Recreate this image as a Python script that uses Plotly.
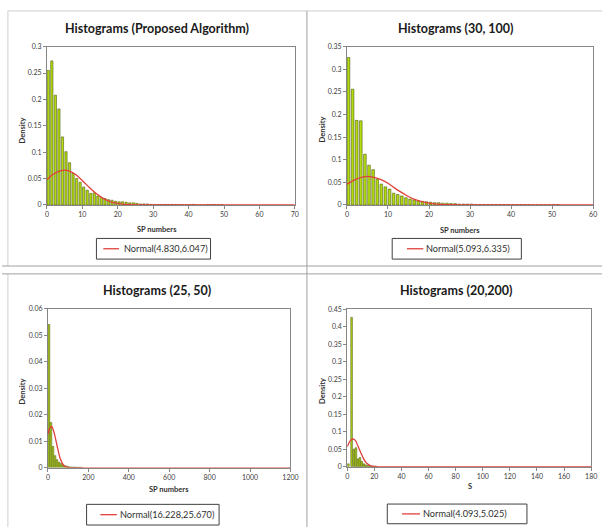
import plotly.graph_objects as go

W, H = 610, 530

# ---------------- data ----------------
titles = ["Histograms (Proposed Algorithm)", "Histograms (30, 100)",
          "Histograms (25, 50)", "Histograms (20,200)"]
x_titles = ["SP numbers", "SP numbers", "SP numbers", "S"]
legend_names = ["Normal(4.830,6.047)", "Normal(5.093,6.335)",
                "Normal(16.228,25.670)", "Normal(4.093,5.025)"]

# Panel 1: histogram (bin start, density)
p1_bins = list(range(0, 50))
p1_dens = [0.255, 0.273, 0.208, 0.182, 0.129, 0.101, 0.080, 0.060, 0.050, 0.043,
           0.034, 0.028, 0.022, 0.023, 0.017, 0.014, 0.012, 0.010, 0.009, 0.007,
           0.006, 0.006, 0.005, 0.004, 0.004, 0.003, 0.002, 0.002, 0.002, 0.001,
           0.001, 0.001, 0.001, 0.001, 0.001, 0.001, 0.001, 0.0008, 0.0008, 0.0005,
           0.0005, 0.001, 0.0, 0.0, 0.0, 0.0008, 0.0008, 0.0008, 0.0005, 0.0005]
p1_curve_x = [0, 2, 4, 5, 6, 8, 10, 12, 14, 16, 18, 20, 22, 25, 30, 70]
p1_curve_y = [0.048, 0.059, 0.065, 0.066, 0.065, 0.058, 0.046, 0.033, 0.021,
              0.012, 0.006, 0.003, 0.001, 0.0002, 0.0, 0.0]

# Panel 2
p2_bins = list(range(0, 52))
p2_dens = [0.326, 0.256, 0.187, 0.186, 0.112, 0.088, 0.078, 0.057, 0.046, 0.040,
           0.035, 0.026, 0.023, 0.020, 0.016, 0.013, 0.011, 0.009, 0.008, 0.007,
           0.006, 0.005, 0.005, 0.004, 0.004, 0.003, 0.003, 0.002, 0.002, 0.002,
           0.002, 0.001, 0.001, 0.001, 0.001, 0.001, 0.001, 0.001, 0.001, 0.0008,
           0.0008, 0.0005, 0.0008, 0.0008, 0.0005, 0.0, 0.0, 0.0, 0.0, 0.0,
           0.0008, 0.0008]
p2_curve_x = [0, 2, 4, 5, 6, 8, 10, 12, 14, 16, 18, 20, 22, 25, 30, 60]
p2_curve_y = [0.046, 0.056, 0.062, 0.063, 0.062, 0.057, 0.048, 0.035, 0.024,
              0.014, 0.008, 0.004, 0.002, 0.0005, 0.0, 0.0]

# Panel 3
p3_bins = list(range(0, 170, 10))
p3_dens = [0.054, 0.017, 0.008, 0.0045, 0.003, 0.002, 0.0015, 0.001, 0.0007,
           0.0005, 0.0003, 0.0002, 0.0002, 0.0002, 0.0001, 0.0001, 0.0001]
p3_curve_x = [0, 10, 16, 20, 30, 40, 50, 60, 70, 80, 90, 100, 120, 1200]
p3_curve_y = [0.0127, 0.0150, 0.0155, 0.0154, 0.0134, 0.0101, 0.0066, 0.0036,
              0.0018, 0.0007, 0.0003, 0.0001, 0.0, 0.0]

# Panel 4
p4_bins = [0.8, 3.2, 4.9, 6.4, 7.9, 9.3, 10.7, 12.2, 13.6, 15.1, 16.5, 18.0, 19.4, 20.9]
p4_dens = [0.008, 0.427, 0.050, 0.054, 0.022, 0.026, 0.015, 0.008, 0.005, 0.004,
           0.003, 0.002, 0.001, 0.001]
p4_curve_x = [0, 2, 4, 6, 8, 10, 12, 14, 16, 18, 20, 24, 180]
p4_curve_y = [0.057, 0.073, 0.079, 0.075, 0.058, 0.040, 0.023, 0.011, 0.005,
              0.0016, 0.0004, 0.0, 0.0]

x_ranges = [[0, 70], [0, 60], [0, 1200], [0, 180]]
x_dticks = [10, 10, 200, 20]
y_ranges = [[0, 0.3], [0, 0.35], [0, 0.06], [0, 0.45]]
y_dticks = [0.05, 0.05, 0.01, 0.05]

# ---------------- layout geometry (pixels) ----------------
plots_px = [  # left, right, top, bottom
    (45.7, 297.7, 42.3, 203.0),
    (350.7, 601.0, 42.3, 203.0),
    (46.7, 293.3, 308.3, 469.7),
    (351.0, 599.0, 309.0, 468.7),
]
title_px = [(158, 24), (462, 24), (158, 290), (462, 290)]
xtitle_px = [(158, 228), (466, 229), (170, 491.5), (475.5, 489)]
ytitle_px = [(21, 127.7), (326, 126.7), (21, 392.7), (326.5, 391.7)]
# legend box: left, right, top, bottom ; sample line x0, x1 ; text left
legend_box_px = [(96, 212, 237, 258), (396.7, 528, 237, 258),
                 (86, 220.7, 507, 528), (391.7, 533.7, 506.7, 526.7)]
legend_line_px = [(103, 119), (411.7, 428.3), (100, 116.7), (406.7, 425)]
legend_text_px = [122.5, 429.5, 117.5, 425.5]
bar_widths = [0.65, 0.65, 8, 1.2]
bar_offsets = [0.05, 0.05, 1, -0.6]

BAR_FILL = "#b2dc10"
BAR_LINE = "#3d4200"
CURVE = "#e0403c"
AXIS = "#868686"
FONT = "Lato"

def px_x(x):
    return x / W

def px_y(y):
    return 1 - y / H

fig = go.Figure()

bins_all = [p1_bins, p2_bins, p3_bins, p4_bins]
dens_all = [p1_dens, p2_dens, p3_dens, p4_dens]
cx_all = [p1_curve_x, p2_curve_x, p3_curve_x, p4_curve_x]
cy_all = [p1_curve_y, p2_curve_y, p3_curve_y, p4_curve_y]

annotations = []
shapes = []
layout_extra = {}
for i in range(4):
    n = "" if i == 0 else str(i + 1)
    xa, ya = "x" + n, "y" + n
    fig.add_trace(go.Bar(
        x=bins_all[i], y=dens_all[i], xaxis=xa, yaxis=ya,
        width=bar_widths[i], offset=bar_offsets[i],
        marker=dict(color=BAR_FILL, line=dict(color=BAR_LINE, width=0.5)),
        showlegend=False, hoverinfo="skip"))
    fig.add_trace(go.Scatter(
        x=cx_all[i], y=cy_all[i], xaxis=xa, yaxis=ya, mode="lines",
        line=dict(color=CURVE, width=1.3, shape="spline", smoothing=0.8),
        name=legend_names[i], showlegend=False))

    l, r, t, b = plots_px[i]
    layout_extra["xaxis" + n] = dict(
        domain=[px_x(l), px_x(r)], range=x_ranges[i], dtick=x_dticks[i], tick0=0,
        anchor=ya, showgrid=False, zeroline=False, showline=True, mirror=True,
        linecolor=AXIS, linewidth=1, ticks="outside", ticklen=3, tickcolor=AXIS,
        tickfont=dict(family=FONT, size=7, color="#404040"), fixedrange=True)
    layout_extra["yaxis" + n] = dict(
        domain=[px_y(b), px_y(t)], range=y_ranges[i], dtick=y_dticks[i], tick0=0,
        anchor=xa, showgrid=False, zeroline=False, showline=True, mirror=True,
        linecolor=AXIS, linewidth=1, ticks="outside", ticklen=3, tickcolor=AXIS,
        tickfont=dict(family=FONT, size=7, color="#404040"), fixedrange=True)

    # legend box (drawn as a boxed key like the original)
    bl, br, bt, bb = legend_box_px[i]
    shapes.append(dict(type="rect", x0=px_x(bl), x1=px_x(br), y0=px_y(bb), y1=px_y(bt),
                       xref="paper", yref="paper", fillcolor="white",
                       line=dict(color="#404040", width=1)))
    ly = (bt + bb) / 2
    lx0, lx1 = legend_line_px[i]
    shapes.append(dict(type="line", x0=px_x(lx0), x1=px_x(lx1), y0=px_y(ly), y1=px_y(ly),
                       xref="paper", yref="paper", line=dict(color=CURVE, width=1.3)))
    annotations.append(dict(text=legend_names[i], x=px_x(legend_text_px[i]), y=px_y(ly),
                            xref="paper", yref="paper", showarrow=False,
                            xanchor="left", yanchor="middle",
                            font=dict(family=FONT, size=9.2, color="#303030")))

    tx, ty = title_px[i]
    annotations.append(dict(text="<b>" + titles[i] + "</b>", x=px_x(tx), y=px_y(ty),
                            xref="paper", yref="paper", showarrow=False,
                            xanchor="center", yanchor="middle",
                            font=dict(family=FONT, size=12.5, color="#1a1a1a")))
    xx, xy = xtitle_px[i]
    annotations.append(dict(text="<b>" + x_titles[i] + "</b>", x=px_x(xx), y=px_y(xy),
                            xref="paper", yref="paper", showarrow=False,
                            xanchor="center", yanchor="middle",
                            font=dict(family=FONT, size=7.5, color="#303030")))
    yx, yy = ytitle_px[i]
    annotations.append(dict(text="<b>Density</b>", x=px_x(yx), y=px_y(yy),
                            xref="paper", yref="paper", showarrow=False, textangle=-90,
                            xanchor="center", yanchor="middle",
                            font=dict(family=FONT, size=7.5, color="#303030")))

# frame / table lines
FRAME = "#a0a0a0"
LIGHT = "#cfcfcf"
frame_px = [
    (6, 6, 6, 265, LIGHT), (6, 610, 6, 6, LIGHT), (6, 6, 273, 530, LIGHT),
    (310, 310, 6, 530, FRAME), (0, 610, 265, 265, FRAME), (0, 610, 273, 273, FRAME),
]
for x0, x1, y0, y1, c in frame_px:
    shapes.append(dict(type="line", xref="paper", yref="paper", layer="below",
                       x0=px_x(x0), x1=px_x(x1), y0=px_y(y0), y1=px_y(y1),
                       line=dict(color=c, width=1)))

fig.update_layout(
    width=W, height=H, margin=dict(l=0, r=0, t=0, b=0),
    paper_bgcolor="white", plot_bgcolor="white", showlegend=False,
    barmode="overlay", annotations=annotations, shapes=shapes,
    font=dict(family=FONT), **layout_extra)

fig.write_html("out.html", config={"displayModeBar": False})
